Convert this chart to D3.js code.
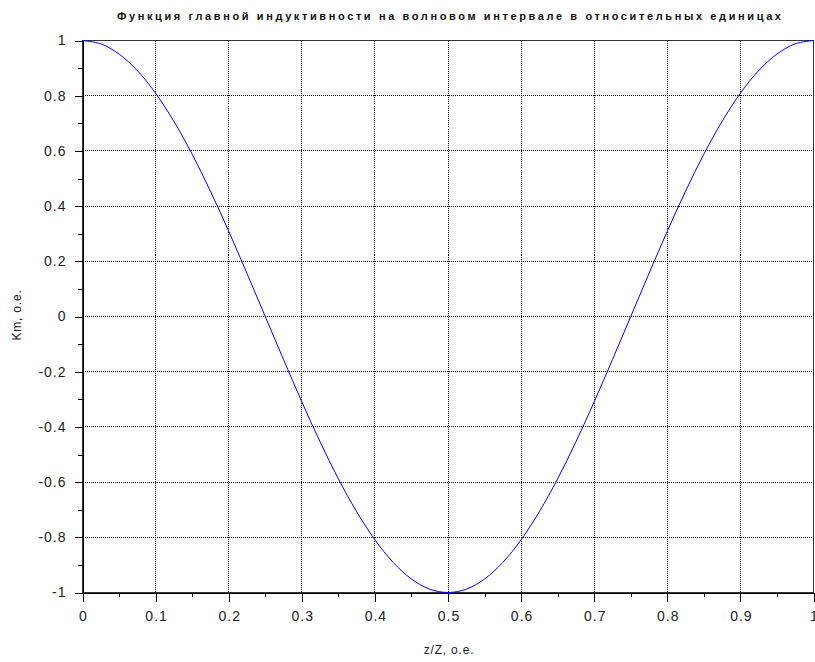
<!DOCTYPE html>
<html>
<head>
<meta charset="utf-8">
<script src="https://cdn.jsdelivr.net/npm/d3@7"></script>
<style>
  body { margin: 0; background: white; }
  text { font-family: "Liberation Sans", Arial, sans-serif; }
</style>
</head>
<body>
<div id="container"></div>
<script>
// z/Z, o.e.
var zValues = [0, 0.025, 0.05, 0.075, 0.1, 0.125, 0.15, 0.175, 0.2, 0.225,
  0.25, 0.275, 0.3, 0.325, 0.35, 0.375, 0.4, 0.425, 0.45, 0.475,
  0.5, 0.525, 0.55, 0.575, 0.6, 0.625, 0.65, 0.675, 0.7, 0.725,
  0.75, 0.775, 0.8, 0.825, 0.85, 0.875, 0.9, 0.925, 0.95, 0.975, 1];
// Km, o.e.
var kmValues = [1, 0.988, 0.951, 0.891, 0.809, 0.707, 0.588, 0.454, 0.309, 0.156,
  0, -0.156, -0.309, -0.454, -0.588, -0.707, -0.809, -0.891, -0.951, -0.988,
  -1, -0.988, -0.951, -0.891, -0.809, -0.707, -0.588, -0.454, -0.309, -0.156,
  0, 0.156, 0.309, 0.454, 0.588, 0.707, 0.809, 0.891, 0.951, 0.988, 1];

var xTicks = [0, 0.1, 0.2, 0.3, 0.4, 0.5, 0.6, 0.7, 0.8, 0.9, 1];
var xMinor = [0.05, 0.15, 0.25, 0.35, 0.45, 0.55, 0.65, 0.75, 0.85, 0.95];
var yTicks = [-1, -0.8, -0.6, -0.4, -0.2, 0, 0.2, 0.4, 0.6, 0.8, 1];
var yMinor = [-0.9, -0.7, -0.5, -0.3, -0.1, 0.1, 0.3, 0.5, 0.7, 0.9];

var title = 'Функция главной индуктивности на волновом интервале в относительных единицах';
var xLabel = 'z/Z, о.е.';
var yLabel = 'Km, о.е.';

var svgWidth = 815,
    svgHeight = 662,
    svg = d3.select('#container').append('svg').attr('width', svgWidth).attr('height', svgHeight).style('background-color', 'white'),
    margin = { top: 40, right: 1, bottom: 70, left: 82 },
    width = svgWidth - margin.left - margin.right,
    height = svgHeight - margin.bottom - margin.top;

var g = svg.append('g').attr('transform', 'translate(' + (margin.left + 0.5) + ',' + (margin.top + 0.5) + ')');

var x = d3.scaleLinear().domain([0, 1]).range([0, width - 1]);
var y = d3.scaleLinear().domain([-1, 1]).range([height, 0]);

var data = zValues.map(function(z, i) { return { z: z, km: kmValues[i] }; });

// grid
g.append('g').selectAll('line').data(xTicks.slice(1, -1)).enter().append('line')
    .attr('x1', function(d) { return Math.round(x(d)); })
    .attr('x2', function(d) { return Math.round(x(d)); })
    .attr('y1', 0).attr('y2', height)
    .attr('stroke', '#000').attr('stroke-dasharray', '1,1').attr('shape-rendering', 'crispEdges');

g.append('g').selectAll('line').data(yTicks.slice(1, -1)).enter().append('line')
    .attr('y1', function(d) { return Math.round(y(d)); })
    .attr('y2', function(d) { return Math.round(y(d)); })
    .attr('x1', 0).attr('x2', width - 1)
    .attr('stroke', '#000').attr('stroke-dasharray', '1,1').attr('shape-rendering', 'crispEdges');

// frame
g.append('rect').attr('x', 0).attr('y', 0).attr('width', width - 1).attr('height', height)
    .attr('fill', 'none').attr('stroke', '#333').attr('shape-rendering', 'crispEdges');

// axes
var fmt = function(d) { return String(d); };

var xAxis = g.append('g').attr('transform', 'translate(0,' + height + ')')
    .call(d3.axisBottom(x).tickValues(xTicks).tickFormat(fmt).tickSize(9).tickSizeOuter(0));
g.append('g').attr('transform', 'translate(0,' + height + ')')
    .call(d3.axisBottom(x).tickValues(xMinor).tickFormat('').tickSize(4).tickSizeOuter(0))
    .select('.domain').remove();

var yAxis = g.append('g')
    .call(d3.axisLeft(y).tickValues(yTicks).tickFormat(fmt).tickSize(8).tickSizeOuter(0).tickPadding(8));
g.append('g')
    .call(d3.axisLeft(y).tickValues(yMinor).tickFormat('').tickSize(5).tickSizeOuter(0))
    .select('.domain').remove();

svg.selectAll('.domain, .tick line').attr('stroke', '#000').attr('shape-rendering', 'crispEdges');
svg.selectAll('.tick text')
    .style('font-family', '"Liberation Sans", Arial, sans-serif')
    .style('font-size', '14px')
    .style('letter-spacing', '1px')
    .attr('fill', '#222');
xAxis.selectAll('.tick text').attr('y', 19).attr('dx', '0.5px');

// curve
var line = d3.line()
  .x(function(d) { return x(d.z); })
  .y(function(d) { return y(d.km); })
  .curve(d3.curveCatmullRom);

g.append('path')
  .datum(data)
  .attr('fill', 'none')
  .attr('stroke', '#0000ff')
  .attr('stroke-width', 1)
  .attr('d', line);

// labels
svg.append('text')
    .attr('x', 449).attr('y', 20)
    .attr('text-anchor', 'middle')
    .attr('textLength', 664).attr('lengthAdjust', 'spacing')
    .style('font-size', '11px').style('font-weight', 'bold')
    .attr('fill', '#111')
    .text(title);

svg.append('text')
    .attr('x', 449).attr('y', 654)
    .attr('text-anchor', 'middle')
    .style('font-size', '12px').style('letter-spacing', '0.8px')
    .attr('fill', '#222')
    .text(xLabel);

svg.append('text')
    .attr('transform', 'translate(21,315) rotate(-90)')
    .attr('text-anchor', 'middle')
    .style('font-size', '12px').style('letter-spacing', '0.8px')
    .attr('fill', '#222')
    .text(yLabel);
</script>
</body>
</html>
